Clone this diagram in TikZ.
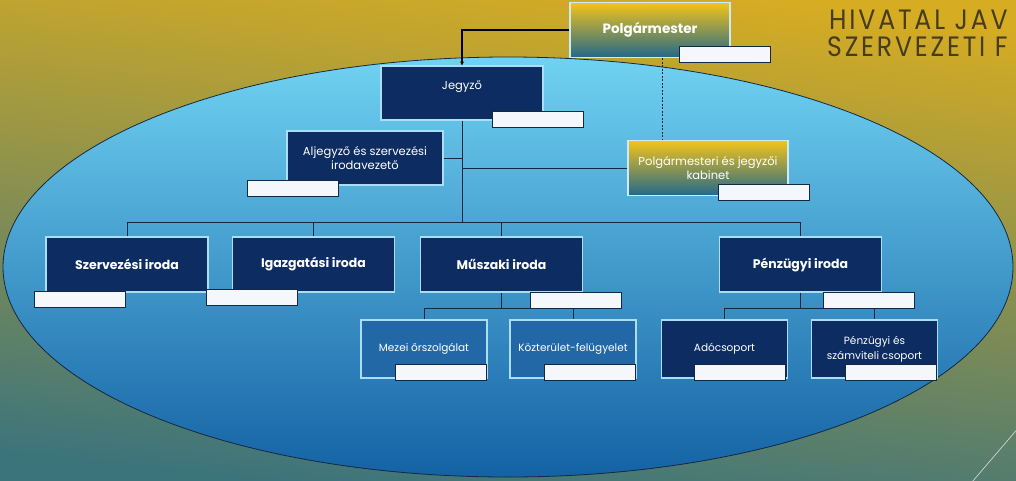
\documentclass[tikz,border=0pt]{standalone}
\usepackage{fontspec}
\setmainfont{Poppins}
\newfontfamily\titlefont[LetterSpace=10,FakeStretch=0.9]{Poppins}
\usetikzlibrary{arrows.meta}

\definecolor{navy}{RGB}{12,44,98}
\definecolor{midblue}{RGB}{34,104,166}
\definecolor{boxedge}{RGB}{170,222,246}
\definecolor{goldtop}{RGB}{244,196,26}
\definecolor{tealbot}{RGB}{34,104,138}
\definecolor{linecol}{RGB}{20,40,66}
\definecolor{titlecol}{RGB}{70,60,30}
\definecolor{bgtop}{RGB}{214,172,34}
\definecolor{bgmid}{RGB}{150,156,58}
\definecolor{bgbot}{RGB}{60,116,124}
\definecolor{elltop}{RGB}{112,210,242}
\definecolor{ellmid}{RGB}{56,160,214}
\definecolor{ellbot}{RGB}{20,98,164}
\definecolor{tagfill}{RGB}{244,248,252}

\tikzset{
	office/.style={draw=boxedge, line width=1.1pt, fill=navy, text=white, minimum width=162pt, minimum height=55pt, align=center, inner sep=1pt, font=\bfseries\fontsize{12.5}{14}\selectfont},
	head/.style={office, minimum width=162pt, minimum height=54pt, font=\fontsize{11.5}{14}\selectfont},
	goldbox/.style={draw=boxedge!60!white, line width=1.1pt, top color=goldtop, bottom color=tealbot, text=white, minimum width=160pt, minimum height=55pt, align=center, inner sep=1pt},
	group/.style={office, minimum width=126pt, minimum height=58pt, font=\fontsize{10.5}{15}\selectfont},
	tag/.style={draw=linecol, line width=0.8pt, fill=tagfill, minimum width=91pt, minimum height=16pt, inner sep=0pt},
	conn/.style={draw=linecol, line width=1pt},
	lead/.style={draw=black, line width=1.6pt, -{Stealth[length=4pt,width=4pt]}},
	dashconn/.style={draw=linecol, line width=0.6pt, dash pattern=on 2pt off 1.5pt}
}

\begin{document}
\begin{tikzpicture}[x=1pt,y=-1pt]
	\useasboundingbox (0,0) rectangle (1016,480);
	\clip (0,0) rectangle (1016,480);
	\shade[top color=bgtop, middle color=bgmid, bottom color=bgbot, shading angle=-6] (0,0) rectangle (1016,480);
	\shade[top color=elltop, middle color=ellmid, bottom color=ellbot, draw=linecol, line width=0.8pt] (508,267) ellipse [x radius=505, y radius=210];
	\draw[white!75!gray, line width=0.6pt] (972,482) -- (1020,426);

	\node[titlecol, font=\titlefont\fontsize{28}{30}\selectfont, anchor=base west, inner sep=0pt] (title1) at (829,29) {HIVATAL JAV};
	\node[titlecol, font=\titlefont\fontsize{28}{30}\selectfont, anchor=base west, inner sep=0pt] (title2) at (827,56) {SZERVEZETI F};

	\node[goldbox, font=\bfseries\fontsize{13.5}{15}\selectfont] (polg) at (650,30) {Polgármester};
	\node[head, text depth=16pt] (jegyzo) at (462,93) {Jegyző};
	\node[head, minimum width=156pt] (aljegyzo) at (365,158) {Aljegyző és szervezési\\irodavezető};
	\node[goldbox, font=\fontsize{11.5}{14}\selectfont] (kabinet) at (708,168) {Polgármesteri és jegyzői\\kabinet};

	\node[office] (szerv) at (127,264.5) {Szervezési iroda};
	\node[office] (igaz) at (313.5,264.5) {Igazgatási iroda};
	\node[office] (muszaki) at (501.5,264.5) {Műszaki iroda};
	\node[office] (penz) at (800.5,264.5) {Pénzügyi iroda};

	\node[group, fill=midblue] (mezei) at (424,349) {Mezei őrszolgálat};
	\node[group, fill=midblue] (kozter) at (573,349) {Közterület-felügyelet};
	\node[group] (ado) at (724.5,349) {Adócsoport};
	\node[group] (szamv) at (874.5,349) {Pénzügyi és\\számviteli csoport};

	\coordinate (bus) at (462,222);
	\coordinate (mbus) at (501.5,308);
	\coordinate (pbus) at (800.5,308);

	\draw[lead] (polg.west) -| (jegyzo.north);
	\draw[dashconn] ([xshift=12pt]polg.south) -- ([xshift=12pt]polg.south |- kabinet.north);
	\draw[conn] (jegyzo.south) -- (bus);
	\draw[conn] (aljegyzo.east) -- (aljegyzo.east -| bus);
	\draw[conn] (kabinet.west) -- (kabinet.west -| bus);
	\draw[conn] (szerv.north) -- (szerv.north |- bus) -- (penz.north |- bus) -- (penz.north);
	\draw[conn] (igaz.north) -- (igaz.north |- bus);
	\draw[conn] (muszaki.north) -- (muszaki.north |- bus);
	\draw[conn] (muszaki.south) -- (mbus);
	\draw[conn] (mezei.north) -- (mezei.north |- mbus) -- (kozter.north |- mbus) -- (kozter.north);
	\draw[conn] (penz.south) -- (pbus);
	\draw[conn] (ado.north) -- (ado.north |- pbus) -- (szamv.north |- pbus) -- (szamv.north);

	\node[tag] (polg-t) at (725,54.5) {};
	\node[tag] (jegyzo-t) at (537.5,119) {};
	\node[tag] (aljegyzo-t) at (292.5,188.5) {};
	\node[tag] (kabinet-t) at (764,192) {};
	\node[tag] (szerv-t) at (80,299) {};
	\node[tag] (igaz-t) at (252,297) {};
	\node[tag] (muszaki-t) at (575.5,300) {};
	\node[tag] (penz-t) at (868.5,300) {};
	\node[tag] (mezei-t) at (441,372.5) {};
	\node[tag] (kozter-t) at (590,372.5) {};
	\node[tag] (ado-t) at (740,372.5) {};
	\node[tag] (szamv-t) at (890.5,372.5) {};
\end{tikzpicture}
\end{document}
